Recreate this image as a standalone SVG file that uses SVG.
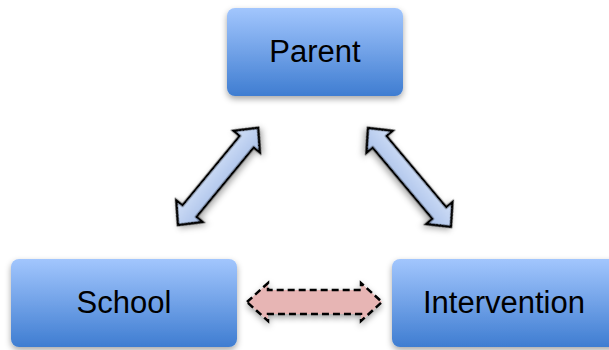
<svg xmlns="http://www.w3.org/2000/svg" width="609" height="350" viewBox="0 0 609 350">
<defs>
<linearGradient id="boxg" x1="0" y1="0" x2="0" y2="1">
<stop offset="0" stop-color="#a2c6fd"/>
<stop offset="1" stop-color="#3f7dd1"/>
</linearGradient>
<linearGradient id="arrg" x1="0" y1="0" x2="0" y2="1">
<stop offset="0" stop-color="#d3e1f8"/>
<stop offset="1" stop-color="#a8bfe8"/>
</linearGradient>
<filter id="sh" x="-20%" y="-20%" width="140%" height="150%">
<feDropShadow dx="0" dy="3" stdDeviation="3" flood-color="#000" flood-opacity="0.35"/>
</filter>
</defs>
<style>
.box{fill:url(#boxg);filter:url(#sh)}
.lbl{font-family:"Liberation Sans",Arial,sans-serif;font-size:31px;fill:#000;text-anchor:middle}
.arr{fill:url(#arrg);stroke:#000;stroke-width:2.5;stroke-linejoin:miter;filter:url(#sh)}
.darr{fill:#e7b5b4;stroke:#000;stroke-width:2.5;stroke-dasharray:7 4;filter:url(#sh)}
</style>
<g id="connectors">
<path class="arr" transform="translate(178,225) rotate(-50.5)" d="M0,0 L18,-17 L18,-9 L108,-9 L108,-17 L126,0 L108,17 L108,9 L18,9 L18,17 Z"/>
<path class="arr" transform="translate(368,128) rotate(50)" d="M0,0 L18,-17 L18,-9 L111,-9 L111,-17 L129,0 L111,17 L111,9 L18,9 L18,17 Z"/>
<path class="darr" transform="translate(247,302)" d="M0,0 L21,-19 L21,-12 L114,-12 L114,-19 L135,0 L114,19 L114,12 L21,12 L21,19 Z"/>
</g>
<g id="parent">
<rect class="box" x="227" y="8" width="176" height="88" rx="8"/>
<text class="lbl" x="315" y="62">Parent</text>
</g>
<g id="school">
<rect class="box" x="11" y="259" width="226" height="88" rx="8"/>
<text class="lbl" x="124" y="313">School</text>
</g>
<g id="intervention">
<rect class="box" x="392" y="259" width="230" height="88" rx="8"/>
<text class="lbl" x="504" y="313">Intervention</text>
</g>
</svg>
